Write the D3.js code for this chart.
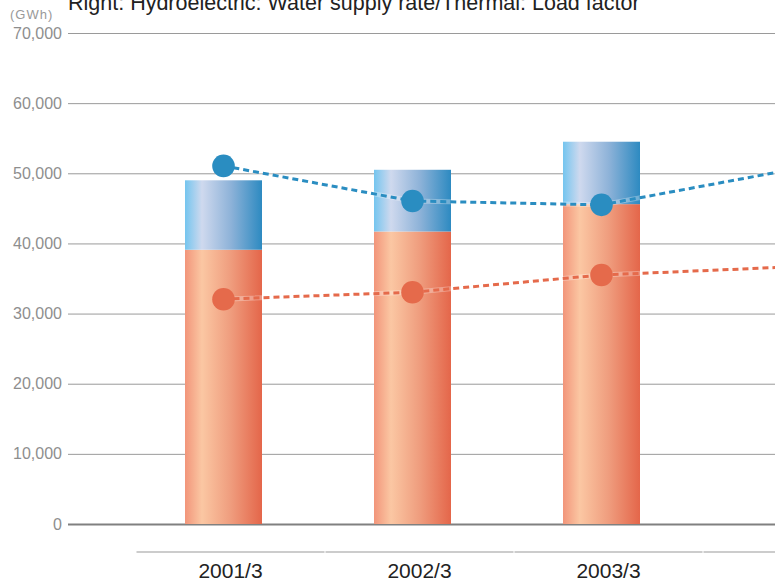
<!DOCTYPE html>
<html lang="en">
<head>
<meta charset="UTF-8">
<title>Generated electric power</title>
<script src="https://d3js.org/d3.v7.min.js"></script>
<style>
  body { margin: 0; background: #fff; }
  svg { display: block; font-family: "Liberation Sans", Arial, Helvetica, sans-serif; }
</style>
</head>
<body>
<div id="chart"></div>
<script>
// data (GWh for bars, % for dots on the right-hand scale)
const categories = ["2001/3", "2002/3", "2003/3", "2004/3"];
const thermal = [39100, 41700, 45600, null];
const hydro = [9900, 8800, 8900, null];
const waterSupplyRate = [102.1, 92.1, 91.0, 101.0];
const loadFactor = [64.1, 66.1, 71.0, 73.3];
const yTicks = [0, 10000, 20000, 30000, 40000, 50000, 60000, 70000];

const W = 775, H = 581;
const plotLeft = 68, plotTop = 33, plotBottom = 524;

const svg = d3.select("#chart").append("svg")
  .attr("width", W).attr("height", H);

const defs = svg.append("defs");
function grad(id, stops) {
  const g = defs.append("linearGradient").attr("id", id)
    .attr("x1", 0).attr("x2", 1).attr("y1", 0).attr("y2", 0);
  stops.forEach(s => g.append("stop").attr("offset", s[0]).attr("stop-color", s[1]));
}
grad("gOrange", [["0%", "#f2957a"], ["22%", "#fbc7a3"], ["60%", "#ef9c7d"], ["100%", "#e4664a"]]);
grad("gBlue", [["0%", "#74c5ef"], ["22%", "#cfd9ee"], ["60%", "#8db2d8"], ["100%", "#2d8ac1"]]);

// scales
const y = d3.scaleLinear().domain([0, 70000]).range([plotBottom, plotTop]);
const yRight = d3.scaleLinear().domain([0, 140]).range([plotBottom, plotTop]);
const x = d3.scalePoint().domain(categories).range([223.5, 223.5 + 189 * 3]);
const xLabel = d3.scaleBand().domain(categories).range([136, 136 + 189 * 4]);
const barW = 77;

// gridlines + left axis
const yAxis = svg.append("g")
  .attr("transform", `translate(${plotLeft},0)`)
  .call(d3.axisLeft(y).tickValues(yTicks).tickSize(-(W - plotLeft)).tickPadding(6).tickFormat(d3.format(",")));
yAxis.select(".domain").remove();
yAxis.selectAll(".tick line")
  .attr("stroke", d => d === 0 ? "#808080" : "#9a9a9a")
  .attr("stroke-width", d => d === 0 ? 2 : 1);
yAxis.selectAll(".tick text")
  .attr("fill", "#8e8e8e").attr("font-size", 16)
  .attr("font-family", "'Liberation Sans', Arial, sans-serif");

// unit + title
svg.append("text").attr("x", 10).attr("y", 19)
  .attr("font-size", 13).attr("fill", "#999").attr("letter-spacing", 1)
  .text("(GWh)");
svg.append("text").attr("x", 68).attr("y", 10)
  .attr("font-size", 21.5).attr("fill", "#222")
  .text("Right: Hydroelectric: Water supply rate/Thermal: Load factor");

// stacked bars
const barData = categories.map((c, i) => ({ c, t: thermal[i], h: hydro[i] })).filter(d => d.t != null);
const bars = svg.append("g");
bars.selectAll("rect.thermal").data(barData).join("rect")
  .attr("class", "thermal")
  .attr("x", d => x(d.c) - barW / 2).attr("width", barW)
  .attr("y", d => y(d.t)).attr("height", d => y(0) - y(d.t))
  .attr("fill", "url(#gOrange)");
bars.selectAll("rect.hydro").data(barData).join("rect")
  .attr("class", "hydro")
  .attr("x", d => x(d.c) - barW / 2).attr("width", barW)
  .attr("y", d => y(d.t + d.h)).attr("height", d => y(d.t) - y(d.t + d.h))
  .attr("fill", "url(#gBlue)");

// dashed lines with dots
function series(values, color) {
  const pts = categories.map((c, i) => [x(c), yRight(values[i])]);
  const line = d3.line();
  svg.append("path").datum(pts).attr("d", line)
    .attr("fill", "none").attr("stroke", "#fff").attr("stroke-opacity", 0.3).attr("stroke-width", 5);
  svg.append("path").datum(pts).attr("d", line)
    .attr("fill", "none").attr("stroke", color).attr("stroke-width", 3)
    .attr("stroke-dasharray", "6,4");
  svg.append("g").selectAll("circle").data(pts).join("circle")
    .attr("cx", d => d[0]).attr("cy", d => d[1]).attr("r", 11.3)
    .attr("fill", color);
}
series(loadFactor, "#e56a4b");
series(waterSupplyRate, "#2a8dc1");

// bottom category axis (label only the years that have bars)
const xg = svg.append("g");
xg.selectAll("line").data(categories).join("line")
  .attr("x1", d => xLabel(d) + 0.5).attr("x2", d => xLabel(d) + xLabel.bandwidth() - 0.5)
  .attr("y1", 552).attr("y2", 552)
  .attr("stroke", "#cccccc").attr("stroke-width", 2);
xg.selectAll("text").data(barData.map(d => d.c)).join("text")
  .attr("x", d => xLabel(d) + xLabel.bandwidth() / 2).attr("y", 578)
  .attr("text-anchor", "middle").attr("font-size", 21).attr("fill", "#222")
  .text(d => d);
</script>
</body>
</html>
